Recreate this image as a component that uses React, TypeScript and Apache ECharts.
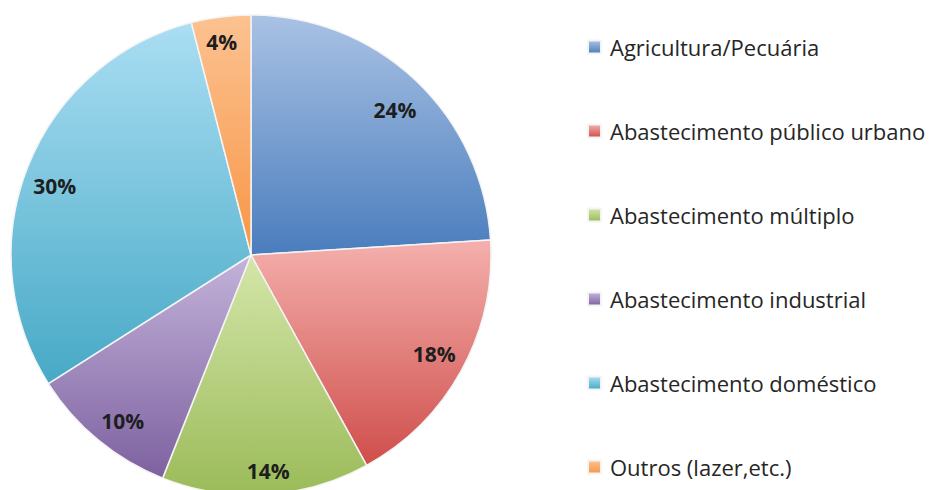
import React, { useEffect, useRef } from "react";
import * as echarts from "echarts";

// Water use by sector (percent)
const categories = [
  "Agricultura/Pecuária",
  "Abastecimento público urbano",
  "Abastecimento múltiplo",
  "Abastecimento industrial",
  "Abastecimento doméstico",
  "Outros (lazer,etc.)",
];
const shares = [24, 18, 14, 10, 30, 4];

// light (top) and dark (bottom) stop for each slice's vertical gradient
const lightColors = ["#a9c2e4", "#f4b0ad", "#d4e6aa", "#c3b3da", "#aadef3", "#fcc291"];
const darkColors = ["#4a7dbd", "#cf4e4b", "#9bbb59", "#7d61a0", "#47a9c6", "#f79646"];

const gradient = (i: number) =>
  new echarts.graphic.LinearGradient(0, 0, 0, 1, [
    { offset: 0, color: lightColors[i] },
    { offset: 1, color: darkColors[i] },
  ]);

// small hand adjustments of each percentage label, in pixels
const labelNudge: [number, number][] = [
  [1, 7],
  [0, -2],
  [4, 7],
  [5, 5],
  [-2, 8],
  [-3, -6],
];

export default function App() {
  const ref = useRef<HTMLDivElement>(null);

  useEffect(() => {
    if (!ref.current) return;
    const chart = echarts.init(ref.current, undefined, { renderer: "svg" });
    chart.setOption({
      animation: false,
      backgroundColor: "#ffffff",
      legend: {
        orient: "vertical",
        left: 582,
        top: 31,
        itemWidth: 13,
        itemHeight: 13,
        itemGap: 62,
        icon: "rect",
        data: categories,
        selectedMode: false,
        textStyle: {
          fontFamily: "Open Sans",
          fontSize: 22,
          color: "#262626",
          padding: [0, 0, 0, 4],
        },
      },
      series: [
        {
          type: "pie",
          center: [251, 255],
          radius: 240,
          startAngle: 90,
          clockwise: true,
          label: { show: false },
          labelLine: { show: false },
          itemStyle: { borderColor: "#f4f4f4", borderWidth: 1.5 },
          emphasis: { disabled: true },
          data: categories.map((name, i) => ({
            name,
            value: shares[i],
            itemStyle: { color: gradient(i) },
          })),
        },
        {
          // transparent ring that carries the percentage labels near the rim
          type: "pie",
          center: [251, 255],
          radius: [172, 240],
          startAngle: 90,
          clockwise: true,
          silent: true,
          labelLine: { show: false },
          itemStyle: { color: "rgba(0,0,0,0)" },
          emphasis: { disabled: true },
          label: {
            show: true,
            position: "inside",
            formatter: "{c}%",
            fontFamily: "Open Sans",
            fontWeight: "bold",
            fontSize: 21,
            color: "#1e1e1e",
          },
          labelLayout: (p: any) => ({
            dx: labelNudge[p.dataIndex][0],
            dy: labelNudge[p.dataIndex][1],
          }),
          data: shares.map((v, i) => ({ name: "l" + i, value: v })),
        },
      ],
    });
    return () => chart.dispose();
  }, []);

  return (
    <div
      ref={ref}
      style={{ position: "fixed", left: 0, top: 0, width: 943, height: 490 }}
    />
  );
}
